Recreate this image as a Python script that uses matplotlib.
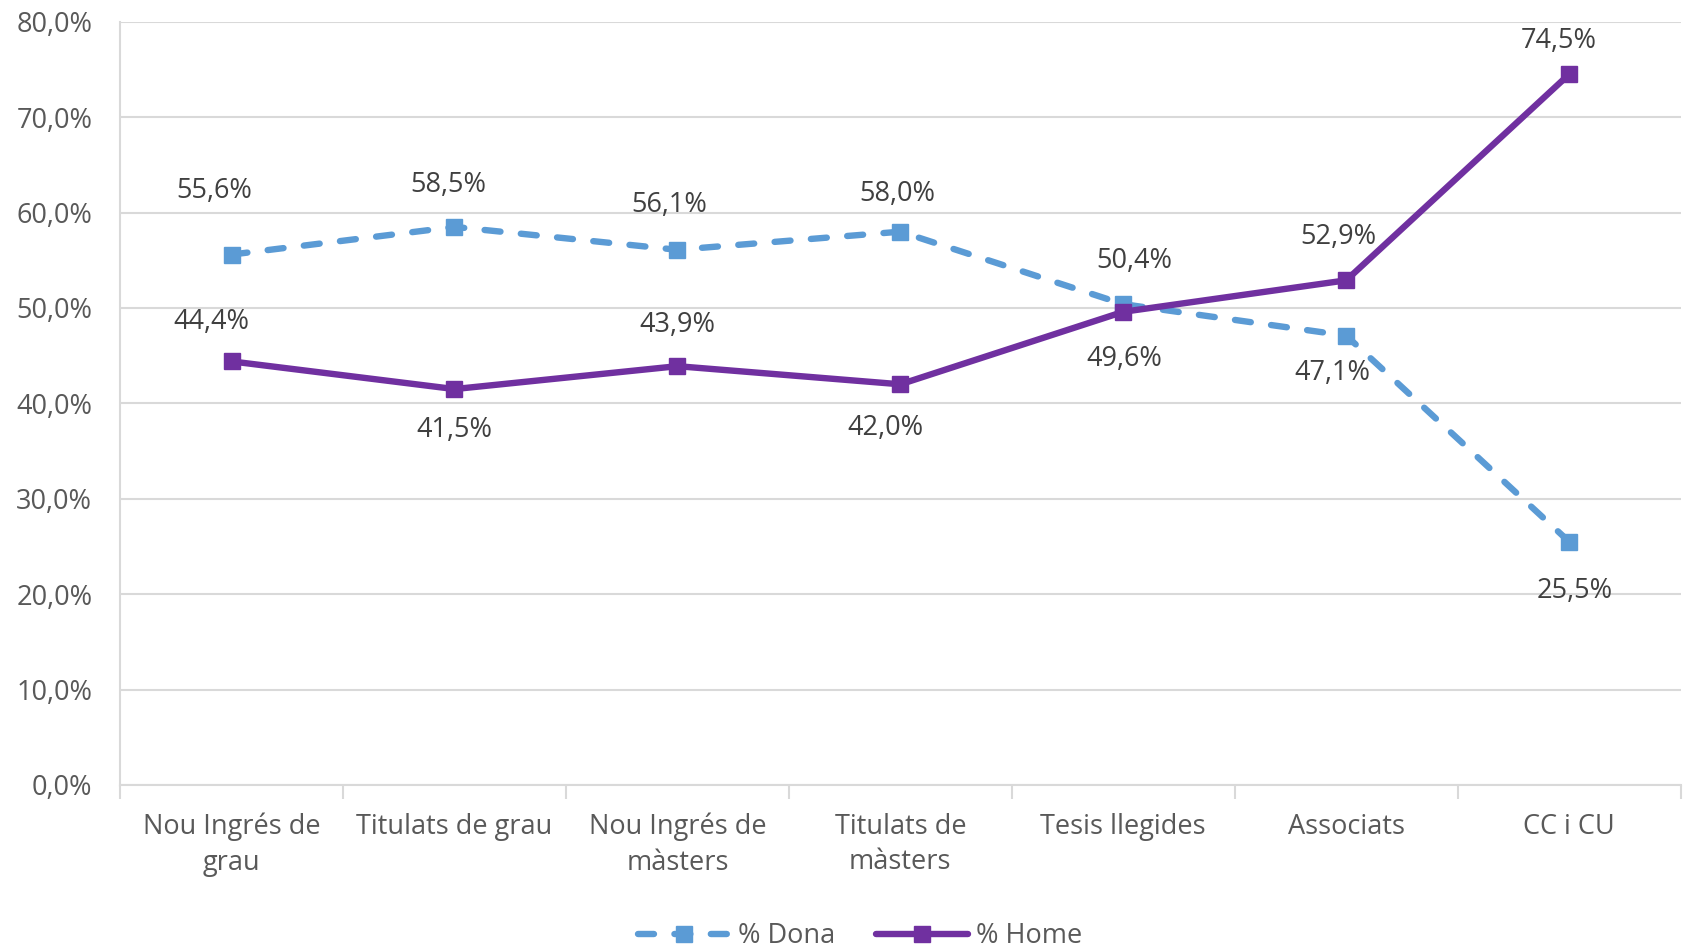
import matplotlib.pyplot as plt

plt.rcParams['font.family'] = ['Open Sans', 'DejaVu Sans']

categories = ['Nou Ingrés de\ngrau', 'Titulats de grau', 'Nou Ingrés de\nmàsters',
              'Titulats de\nmàsters', 'Tesis llegides', 'Associats', 'CC i CU']
dona = [55.6, 58.5, 56.1, 58.0, 50.4, 47.1, 25.5]
home = [44.4, 41.5, 43.9, 42.0, 49.6, 52.9, 74.5]

# label offsets in pixels (dx, dy), positive dy = up
dona_off = [(-17, 64), (-6, 42), (-8, 45), (-3, 38), (11, 43), (-14, -37), (6, -49)]
home_off = [(-20, 39), (0, -41), (0, 41), (-15, -44), (1, -47), (-8, 43), (-10, 33)]

c_dona = '#5B9BD5'
c_home = '#7030A0'
grid_c = '#D9D9D9'
txt_c = '#595959'
lab_c = '#404040'
fs = 19.5

fig = plt.figure(figsize=(16.84, 9.48), dpi=100)
ax = fig.add_axes([0.0713, 0.172, 0.9267, 0.805])

x = list(range(len(categories)))
ax.plot(x, dona, color=c_dona, lw=4.6, ls=(0, (2.5, 3.2)), dash_capstyle='round',
        marker='s', ms=11.5, label='% Dona', zorder=3)
ax.plot(x, home, color=c_home, lw=4.6, solid_capstyle='round',
        marker='s', ms=11.5, label='% Home', zorder=4)

for xi, v, (dx, dy) in zip(x, dona, dona_off):
    ax.annotate(f'{v:.1f}%'.replace('.', ','), (xi, v), xytext=(dx, dy),
                textcoords='offset pixels', ha='center', va='center',
                fontsize=fs, color=lab_c)
for xi, v, (dx, dy) in zip(x, home, home_off):
    ax.annotate(f'{v:.1f}%'.replace('.', ','), (xi, v), xytext=(dx, dy),
                textcoords='offset pixels', ha='center', va='center',
                fontsize=fs, color=lab_c)

ax.set_xlim(-0.5, len(categories) - 0.5)
ax.set_ylim(0, 80)
ax.set_yticks(range(0, 81, 10))
ax.set_yticklabels([f'{v},0%' for v in range(0, 81, 10)], fontsize=fs, color=txt_c)
ax.yaxis.grid(True, color=grid_c, lw=1.5)
ax.set_axisbelow(True)
ax.tick_params(axis='y', length=0, pad=20)

ax.set_xticks(x)
ax.set_xticklabels(categories, fontsize=fs, color=txt_c, linespacing=1.35)
ax.set_xticks([i - 0.5 for i in range(len(categories) + 1)], minor=True)
ax.tick_params(axis='x', which='major', length=0, pad=20)
ax.tick_params(axis='x', which='minor', length=10, width=1.5, color=grid_c)

for s in ['top', 'right']:
    ax.spines[s].set_visible(False)
ax.spines['left'].set_color(grid_c)
ax.spines['left'].set_linewidth(1.5)
ax.spines['bottom'].set_color(grid_c)
ax.spines['bottom'].set_linewidth(1.5)

ax.legend(loc='center', bbox_to_anchor=(0.474, -0.198), ncol=2, frameon=False,
          fontsize=fs, labelcolor=txt_c, handlelength=3.4, columnspacing=1.5,
          handletextpad=0.3)

fig.savefig('out.png', dpi=100)
